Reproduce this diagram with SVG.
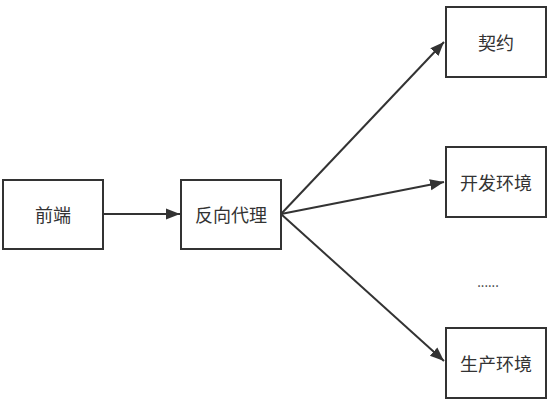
<svg xmlns="http://www.w3.org/2000/svg" width="551" height="404" viewBox="0 0 551 404">
<style>
.box{fill:#fff;stroke:#333;stroke-width:2}
.lbl{font-family:"Noto Sans CJK SC","Noto Sans",sans-serif;font-size:18px;fill:#333;text-anchor:middle;dominant-baseline:central}
.edge{stroke:#333;stroke-width:2;fill:none;marker-end:url(#arr)}
</style>
<defs>
<marker id="arr" viewBox="0 0 10 10" refX="10" refY="5" markerWidth="7" markerHeight="7" markerUnits="strokeWidth" orient="auto">
<path d="M0,1 L10,5 L0,9 Z" fill="#333"/>
</marker>
</defs>
<rect width="551" height="404" fill="#fff"/>
<g id="connectors">
<line class="edge" x1="103" y1="214" x2="180" y2="214"/>
<line class="edge" x1="281" y1="214" x2="444" y2="42"/>
<line class="edge" x1="281" y1="214" x2="444" y2="182"/>
<line class="edge" x1="281" y1="214" x2="444" y2="361"/>
</g>
<g id="frontend"><rect class="box" x="3" y="180" width="100" height="69"/><text class="lbl" x="53" y="214">前端</text></g>
<g id="proxy"><rect class="box" x="181" y="180" width="100" height="69"/><text class="lbl" x="231" y="214">反向代理</text></g>
<g id="contract"><rect class="box" x="446" y="7" width="100" height="70"/><text class="lbl" x="496" y="42">契约</text></g>
<g id="dev"><rect class="box" x="446" y="147" width="100" height="70"/><text class="lbl" x="496" y="182">开发环境</text></g>
<g id="prod"><rect class="box" x="446" y="328" width="100" height="70"/><text class="lbl" x="496" y="363">生产环境</text></g>
<text class="lbl" x="488" y="281" style="font-size:13px">......</text>
</svg>
